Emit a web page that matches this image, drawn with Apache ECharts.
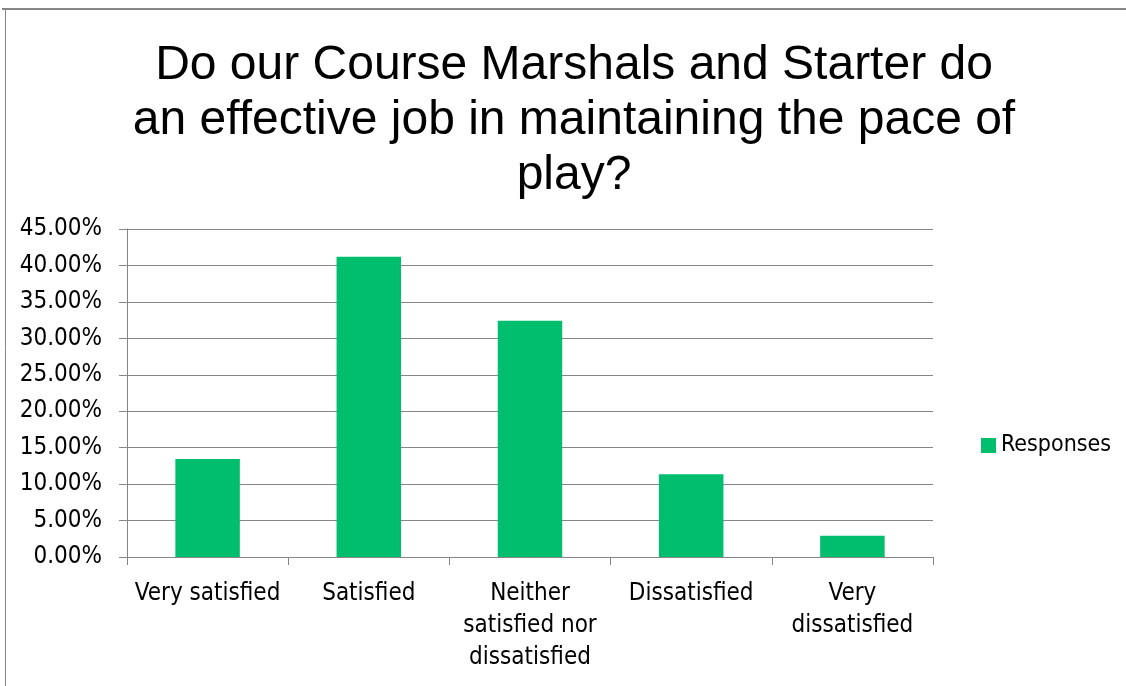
<!DOCTYPE html>
<html>
<head>
<meta charset="utf-8">
<script src="https://cdn.jsdelivr.net/npm/echarts@6/dist/echarts.min.js"></script>
<style>
  html, body { margin: 0; padding: 0; background: #fff; }
  #main { width: 1126px; height: 686px; }
</style>
</head>
<body>
<div id="main"></div>
<script>
// chart data
var categories = ['Very satisfied', 'Satisfied', 'Neither\nsatisfied nor\ndissatisfied', 'Dissatisfied', 'Very\ndissatisfied'];
var responses = [13.45, 41.2, 32.4, 11.35, 2.9];
var yTicks = [0, 5, 10, 15, 20, 25, 30, 35, 40, 45];

var labelFont = '"Liberation Sans Narrow", "DejaVu Sans Condensed", sans-serif';

var chart = echarts.init(document.getElementById('main'));
var option = {
    backgroundColor: '#fff',
    animation: false,
    title: {
        text: 'Do our Course Marshals and Starter do\nan effective job in maintaining the pace of\nplay?',
        left: 569,
        top: 33,
        textAlign: 'center',
        textStyle: {
            fontFamily: '"Liberation Sans", Arial, sans-serif',
            fontSize: 48,
            fontWeight: 'normal',
            color: '#000',
            lineHeight: 55
        }
    },
    graphic: [
        { type: 'line', shape: { x1: 2, y1: 9, x2: 1126, y2: 9 }, style: { stroke: '#868686', lineWidth: 2 } },
        { type: 'line', shape: { x1: 5.5, y1: 9, x2: 5.5, y2: 686 }, style: { stroke: '#868686', lineWidth: 1 } }
    ],
    legend: {
        data: ['Responses'],
        left: 976,
        top: 429,
        itemWidth: 15,
        itemHeight: 15,
        itemGap: 10,
        icon: 'rect',
        textStyle: { fontFamily: labelFont, fontSize: 23, color: '#000', padding: [0, 0, 0, 0] }
    },
    grid: { left: 127, right: 193, top: 229, bottom: 129, containLabel: false },
    xAxis: {
        type: 'category',
        data: categories,
        axisLine: { show: true, lineStyle: { color: '#868686', width: 1 } },
        axisTick: { show: true, alignWithLabel: false, length: 8, lineStyle: { color: '#868686' } },
        axisLabel: {
            interval: 0,
            margin: 21,
            color: '#000',
            fontFamily: labelFont,
            fontSize: 24,
            lineHeight: 32
        }
    },
    yAxis: {
        type: 'value',
        min: yTicks[0],
        max: yTicks[yTicks.length - 1],
        interval: 5,
        axisLine: { show: true, lineStyle: { color: '#868686', width: 1 } },
        axisTick: { show: true, length: 8, lineStyle: { color: '#868686' } },
        axisLabel: {
            margin: 25,
            color: '#000',
            fontFamily: labelFont,
            fontSize: 24,
            formatter: function (v) { return v.toFixed(2) + '%'; }
        },
        splitLine: { lineStyle: { color: '#868686', width: 1 } }
    },
    series: [{
        name: 'Responses',
        type: 'bar',
        data: responses,
        barWidth: '40%',
        itemStyle: { color: '#00BE6E' }
    }]
};
chart.setOption(option);
</script>
</body>
</html>
